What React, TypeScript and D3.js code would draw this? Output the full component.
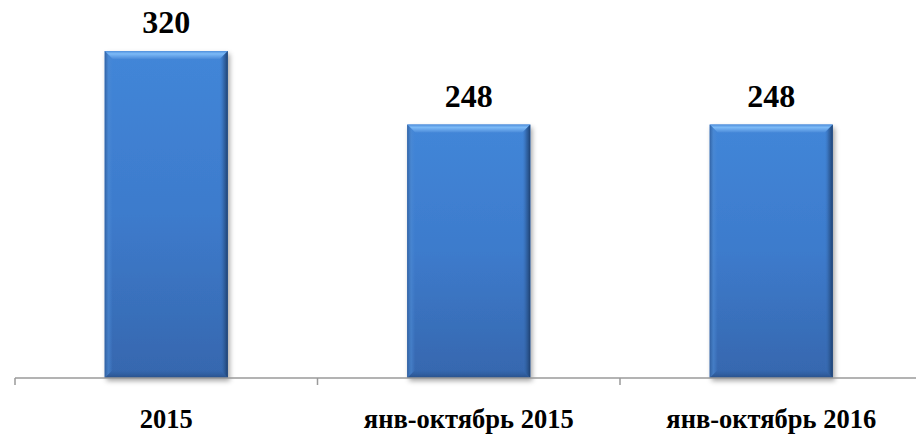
import React from "react";
import * as d3 from "d3";

const categories = ["2015", "янв-октябрь 2015", "янв-октябрь 2016"];
const values = [320, 248, 248];

const W = 916;
const H = 435;
const AXIS_Y = 378;
const X0 = 15;
const X1 = 922.5;

export default function App() {
  const x = d3
    .scaleBand<string>()
    .domain(categories)
    .range([X0, X1])
    .paddingInner(0.593)
    .paddingOuter(0.2965);
  const y = d3.scaleLinear().domain([0, 350]).range([AXIS_Y, AXIS_Y - 350 * (327 / 320)]);
  const step = x.step();
  const bw = x.bandwidth();
  const b = 8;
  const font = "'Times New Roman', 'Liberation Serif', serif";

  return (
    <div style={{ position: "absolute", left: 0, top: 0 }}>
      <svg width={W} height={H} style={{ display: "block", background: "#fff" }}>
        <defs>
          <linearGradient id="bodyV" x1="0" y1="0" x2="0" y2="1">
            <stop offset="0" stopColor="#4286d8" />
            <stop offset="0.5" stopColor="#3d7bcc" />
            <stop offset="1" stopColor="#3667ae" />
          </linearGradient>
          <linearGradient id="topBevel" x1="0" y1="0" x2="0" y2="1">
            <stop offset="0" stopColor="#4f8fdc" />
            <stop offset="0.35" stopColor="#7cbaf7" />
            <stop offset="1" stopColor="#4a8ad9" />
          </linearGradient>
          <linearGradient id="leftBevel" x1="0" y1="0" x2="1" y2="0">
            <stop offset="0" stopColor="#2f5e9e" stopOpacity="0.9" />
            <stop offset="0.5" stopColor="#4d8ad2" stopOpacity="0.6" />
            <stop offset="1" stopColor="#4a88d6" stopOpacity="0" />
          </linearGradient>
          <linearGradient id="rightBevel" x1="0" y1="0" x2="1" y2="0">
            <stop offset="0" stopColor="#3b74bf" stopOpacity="0" />
            <stop offset="0.5" stopColor="#2d5b98" stopOpacity="0.7" />
            <stop offset="1" stopColor="#1c3d6b" stopOpacity="0.95" />
          </linearGradient>
          <linearGradient id="bottomBevel" x1="0" y1="0" x2="0" y2="1">
            <stop offset="0" stopColor="#2f5c9c" stopOpacity="0" />
            <stop offset="1" stopColor="#25497f" stopOpacity="0.8" />
          </linearGradient>
          <filter id="shadow" x="-20%" y="-20%" width="140%" height="140%">
            <feDropShadow dx="2" dy="3" stdDeviation="2.5" floodColor="#000" floodOpacity="0.35" />
          </filter>
        </defs>

        {categories.map((c, i) => {
          const x0 = x(c)!;
          const x1 = x0 + bw;
          const y0 = y(values[i]);
          const y1 = y(0);
          return (
            <g key={c}>
              <rect x={x0} y={y0} width={bw} height={y1 - y0} fill="url(#bodyV)" filter="url(#shadow)" />
              <polygon
                points={`${x0},${y0} ${x1},${y0} ${x1 - b},${y0 + b} ${x0 + b},${y0 + b}`}
                fill="url(#topBevel)"
              />
              <polygon
                points={`${x0},${y0} ${x0 + b},${y0 + b} ${x0 + b},${y1 - b} ${x0},${y1}`}
                fill="url(#leftBevel)"
              />
              <polygon
                points={`${x1},${y0} ${x1 - b},${y0 + b} ${x1 - b},${y1 - b} ${x1},${y1}`}
                fill="url(#rightBevel)"
              />
              <polygon
                points={`${x0},${y1} ${x0 + b},${y1 - b} ${x1 - b},${y1 - b} ${x1},${y1}`}
                fill="url(#bottomBevel)"
              />
              <text
                x={x0 + bw / 2}
                y={y0 - 18}
                textAnchor="middle"
                fontFamily={font}
                fontWeight="bold"
                fontSize={32}
                fill="#000"
              >
                {values[i]}
              </text>
              <text
                x={x0 + bw / 2}
                y={428}
                textAnchor="middle"
                fontFamily={font}
                fontWeight="bold"
                fontSize={26.5}
                fill="#000"
              >
                {c}
              </text>
            </g>
          );
        })}

        <line x1={X0} x2={W} y1={AXIS_Y} y2={AXIS_Y} stroke="#9a9a9a" strokeWidth={1.5} />
        {categories.map((c, i) => (
          <line
            key={"t" + c}
            x1={X0 + i * step}
            x2={X0 + i * step}
            y1={AXIS_Y}
            y2={AXIS_Y + 7}
            stroke="#9a9a9a"
            strokeWidth={1.5}
          />
        ))}
      </svg>
    </div>
  );
}
